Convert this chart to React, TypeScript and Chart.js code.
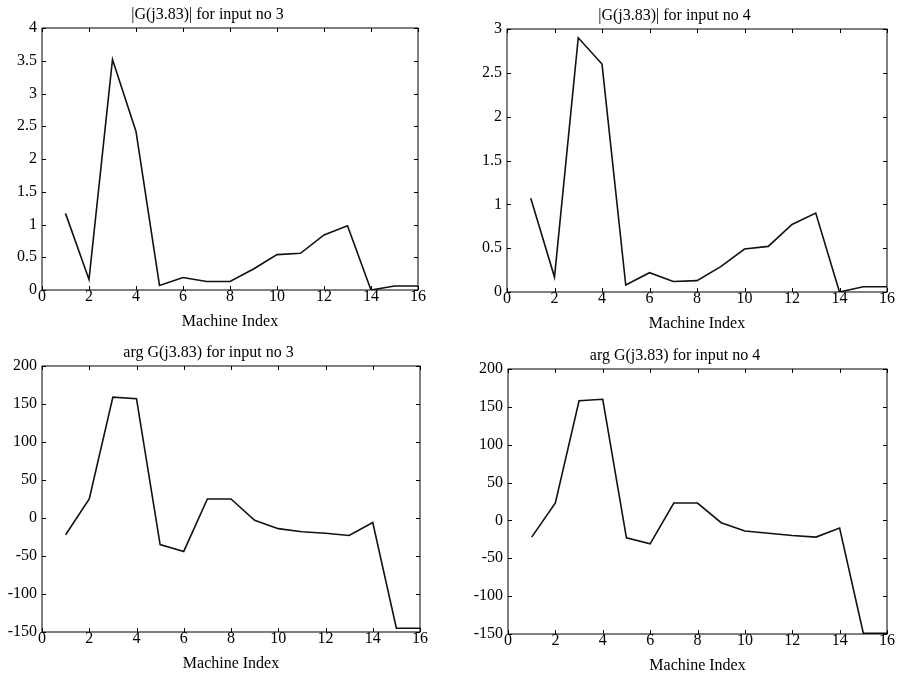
import React, { useEffect, useRef } from "react";
import { Chart, registerables } from "chart.js";

Chart.register(...registerables);

const machineIndex = [1, 2, 3, 4, 5, 6, 7, 8, 9, 10, 11, 12, 13, 14, 15, 16];
const magInput3 = [1.17, 0.16, 3.52, 2.42, 0.07, 0.19, 0.13, 0.13, 0.32, 0.54, 0.56, 0.84, 0.98, 0.0, 0.06, 0.06];
const magInput4 = [1.07, 0.17, 2.9, 2.6, 0.08, 0.22, 0.12, 0.13, 0.29, 0.49, 0.52, 0.77, 0.9, 0.0, 0.06, 0.06];
const argInput3 = [-22, 25, 159, 157, -35, -44, 25, 25, -3, -14, -18, -20, -23, -6, -145, -145];
const argInput4 = [-22, 23, 158, 160, -23, -31, 23, 23, -3, -14, -17, -20, -22, -10, -149, -149];

const titles = [
  "|G(j3.83)| for input no 3",
  "|G(j3.83)| for input no 4",
  "arg G(j3.83) for input no 3",
  "arg G(j3.83) for input no 4",
];
const xLabel = "Machine Index";

const FONT = "'Liberation Serif', 'Times New Roman', serif";
const Y_W = 45;
const TITLE_H = 30;
const X_H = 45;
const RIGHT_PAD = 12;

type Panel = {
  title: string;
  values: number[];
  yMin: number;
  yMax: number;
  yStep: number;
  area: [number, number, number, number]; // left, top, right, bottom of plot box
};

const panels: Panel[] = [
  { title: titles[0], values: magInput3, yMin: 0, yMax: 4, yStep: 0.5, area: [42, 28, 418, 290] },
  { title: titles[1], values: magInput4, yMin: 0, yMax: 3, yStep: 0.5, area: [507, 29, 887, 292] },
  { title: titles[2], values: argInput3, yMin: -150, yMax: 200, yStep: 50, area: [42, 366, 420, 632] },
  { title: titles[3], values: argInput4, yMin: -150, yMax: 200, yStep: 50, area: [508, 369, 887, 634] },
];

const boxTicks = {
  id: "boxTicks",
  afterDatasetsDraw(chart: any) {
    const { ctx, chartArea } = chart;
    const { left, top, right, bottom } = chartArea;
    const xs = chart.scales.x;
    const ys = chart.scales.y;
    const L = 4;
    ctx.save();
    ctx.strokeStyle = "#000";
    ctx.lineWidth = 1;
    ctx.strokeRect(left, top, right - left, bottom - top);
    ctx.beginPath();
    xs.ticks.forEach((t: any) => {
      const px = Math.round(xs.getPixelForValue(t.value)) + 0.5;
      ctx.moveTo(px, bottom);
      ctx.lineTo(px, bottom - L);
      ctx.moveTo(px, top);
      ctx.lineTo(px, top + L);
    });
    ys.ticks.forEach((t: any) => {
      const py = Math.round(ys.getPixelForValue(t.value)) + 0.5;
      ctx.moveTo(left, py);
      ctx.lineTo(left + L, py);
      ctx.moveTo(right, py);
      ctx.lineTo(right - L, py);
    });
    ctx.stroke();
    ctx.restore();
  },
};

function PanelChart({ p }: { p: Panel }) {
  const ref = useRef<HTMLCanvasElement>(null);
  const [l, t, r, b] = p.area;
  const cw = r - l + Y_W + RIGHT_PAD;
  const ch = b - t + TITLE_H + X_H;
  const cl = l - Y_W;
  const ct = t - TITLE_H;

  useEffect(() => {
    if (!ref.current) return;
    const chart = new Chart(ref.current, {
      type: "line",
      data: {
        datasets: [
          {
            data: machineIndex.map((x, i) => ({ x, y: p.values[i] })),
            borderColor: "#111",
            borderWidth: 1.6,
            pointRadius: 0,
            fill: false,
            tension: 0,
          },
        ],
      },
      options: {
        animation: false,
        responsive: false,
        maintainAspectRatio: false,
        layout: { padding: { left: 0, top: 0, right: RIGHT_PAD, bottom: 0 } },
        plugins: {
          legend: { display: false },
          tooltip: { enabled: false },
          title: {
            display: true,
            text: p.title,
            color: "#000",
            font: { family: FONT, size: 16, weight: "normal" },
            padding: { top: 7.4, bottom: 3.4 },
          },
        },
        scales: {
          x: {
            type: "linear",
            min: 0,
            max: 16,
            grid: { display: false, drawTicks: false },
            border: { display: false },
            ticks: {
              stepSize: 2,
              padding: -3,
              color: "#000",
              font: { family: FONT, size: 16 },
              maxRotation: 0,
              callback: (v: any) => String(v),
            },
            title: {
              display: true,
              text: xLabel,
              color: "#000",
              font: { family: FONT, size: 16 },
              padding: { top: 0, bottom: 4 },
            },
            afterFit: (s: any) => {
              s.height = X_H;
            },
          },
          y: {
            min: p.yMin,
            max: p.yMax,
            grid: { display: false, drawTicks: false },
            border: { display: false },
            ticks: {
              stepSize: p.yStep,
              padding: 5,
              color: "#000",
              font: { family: FONT, size: 16 },
              callback: (v: any) => String(v),
            },
            afterFit: (s: any) => {
              s.width = Y_W;
            },
          },
        },
      },
      plugins: [boxTicks],
    } as any);
    return () => chart.destroy();
  }, []);

  return (
    <canvas
      ref={ref}
      width={cw}
      height={ch}
      style={{ position: "absolute", left: cl, top: ct, width: cw, height: ch }}
    />
  );
}

export default function App() {
  return (
    <div
      style={{
        position: "absolute",
        left: 0,
        top: 0,
        width: 903,
        height: 678,
        background: "#fff",
        overflow: "hidden",
      }}
    >
      {panels.map((p, i) => (
        <PanelChart key={i} p={p} />
      ))}
    </div>
  );
}
